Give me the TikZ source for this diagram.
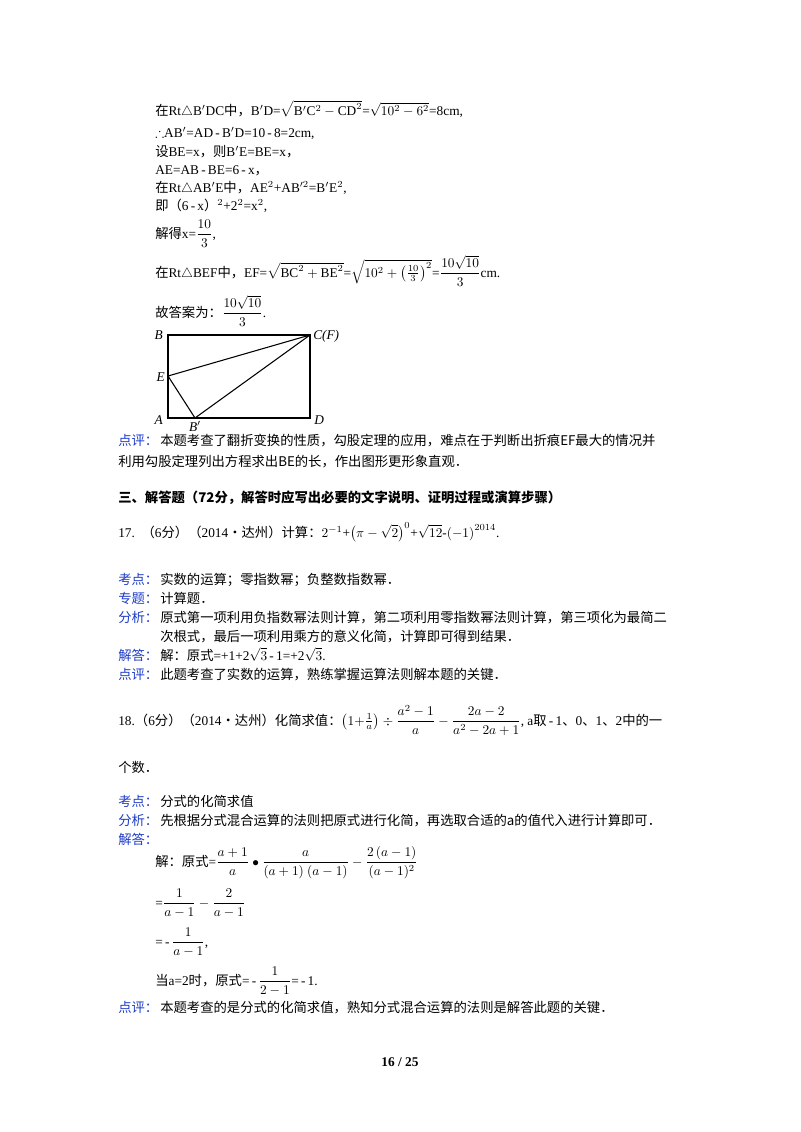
\documentclass[tikz,border=0pt]{standalone}
\usepackage{amsmath,amssymb}
\usepackage{fontspec}
\setmainfont{Liberation Serif}
\newfontfamily\cjk{Noto Sans CJK SC}
\definecolor{lblue}{RGB}{30,60,200}
\begin{document}
\begin{tikzpicture}[x=0.75pt,y=-0.75pt,
  t/.style={anchor=base west,inner sep=0pt,font=\fontsize{10}{12}\selectfont},
  b/.style={t,text=lblue}]
\useasboundingbox (0,0) rectangle (800,1132);
\fill[white] (0,0) rectangle (800,1132);
\node[t] (l1) at (155,115) {{\cjk 在}Rt$\triangle$B$'$DC{\cjk 中，}B$'$D=$\sqrt{\mathrm{B}'\mathrm{C}^2-\mathrm{CD}^2}$=$\sqrt{10^2-6^2}$=8cm,};
\node[t] (l2) at (155,137) {$\therefore$AB$'$=AD{\,-\,}B$'$D=10{\,-\,}8=2cm,};
\node[t] (l3) at (155,156) {{\cjk 设}BE=x{\cjk ，则}B$'$E=BE=x{\cjk ，}};
\node[t] (l4) at (155,174) {AE=AB{\,-\,}BE=6{\,-\,}x{\cjk ，}};
\node[t] (l5) at (155,192) {{\cjk 在}Rt$\triangle$AB$'$E{\cjk 中，}AE$^2$+AB$'^2$=B$'$E$^2$,};
\node[t] (l6) at (155,210) {{\cjk 即（}6{\,-\,}x{\cjk ）}$^2$+2$^2$=x$^2$,};
\node[t] (l7) at (155,238) {{\cjk 解得}x=$\dfrac{10}{3}$,};
\node[t] (l8) at (155,277) {{\cjk 在}Rt$\triangle$BEF{\cjk 中，}EF=$\sqrt{\mathrm{BC}^2+\mathrm{BE}^2}$=$\sqrt{10^2+\left(\frac{10}{3}\right)^2}$=$\dfrac{10\sqrt{10}}{3}$cm.};
\node[t] (l9) at (155,317) {{\cjk 故答案为：}$\dfrac{10\sqrt{10}}{3}$.};
% figure
\coordinate (A) at (168,418); \coordinate (B) at (168,335);
\coordinate (C) at (310,335); \coordinate (D) at (310,418);
\coordinate (E) at (168,376); \coordinate (Bp) at (195,418);
\draw[line width=0.8pt] (A) rectangle (C);
\draw[line width=0.8pt] (E) -- (C) (E) -- (Bp) -- (C);
\node[t,anchor=east] at (163,335) {\itshape B};
\node[t,anchor=west] at (313,336) {\itshape C(F)};
\node[t,anchor=east] at (165,377) {\itshape E};
\node[t,anchor=east] at (163,420) {\itshape A};
\node[t,anchor=north] at (195,421) {\itshape B$'$};
\node[t,anchor=west] at (314,420) {\itshape D};
\node[b] (p1) at (118,445) {\cjk 点评：};
\node[t] at (160,445) {\cjk 本题考查了翻折变换的性质，勾股定理的应用，难点在于判断出折痕EF最大的情况并};
\node[t] at (118,466) {\cjk 利用勾股定理列出方程求出BE的长，作出图形更形象直观．};
\node[t] at (118,502) {\cjk\bfseries 三、解答题（72分，解答时应写出必要的文字说明、证明过程或演算步骤）};
\node[t] (q17) at (118,537) {17.\ \ {\cjk （}6{\cjk 分）（}2014{\cjk •达州）计算：}$2^{-1}$+$\left(\pi-\sqrt{2}\right)^0$+$\sqrt{12}$-$\left(-1\right)^{2014}$.};
\node[b] at (118,584) {\cjk 考点：};
\node[t] at (160,584) {\cjk 实数的运算；零指数幂；负整数指数幂．};
\node[b] at (118,603) {\cjk 专题：};
\node[t] at (160,603) {\cjk 计算题．};
\node[b] at (118,622) {\cjk 分析：};
\node[t] at (160,622) {\cjk 原式第一项利用负指数幂法则计算，第二项利用零指数幂法则计算，第三项化为最简二};
\node[t] at (160,641) {\cjk 次根式，最后一项利用乘方的意义化简，计算即可得到结果．};
\node[b] at (118,660) {\cjk 解答：};
\node[t] at (160,660) {{\cjk 解：原式}=+1+2$\sqrt{3}${\,-\,}1=+2$\sqrt{3}$.};
\node[b] at (118,679) {\cjk 点评：};
\node[t] at (160,679) {\cjk 此题考查了实数的运算，熟练掌握运算法则解本题的关键．};
\node[t] (q18) at (118,725) {18.{\cjk （}6{\cjk 分）（}2014{\cjk •达州）化简求值：}$\left(1{+}\frac{1}{a}\right)\div\dfrac{a^2-1}{a}-\dfrac{2a-2}{a^2-2a+1}$, a{\cjk 取}{\,-\,}1{\cjk 、}0{\cjk 、}1{\cjk 、}2{\cjk 中的一}};
\node[t] at (118,772) {\cjk 个数．};
\node[b] at (118,806) {\cjk 考点：};
\node[t] at (160,806) {\cjk 分式的化简求值};
\node[b] at (118,825) {\cjk 分析：};
\node[t] at (160,825) {\cjk 先根据分式混合运算的法则把原式进行化简，再选取合适的a的值代入进行计算即可．};
\node[b] at (118,844) {\cjk 解答：};
\node[t] at (155,866) {{\cjk 解：原式}=$\dfrac{a+1}{a}\bullet\dfrac{a}{(a+1)\ (a-1)}-\dfrac{2\,(a-1)}{(a-1)^2}$};
\node[t] at (155,907) {=$\dfrac{1}{a-1}-\dfrac{2}{a-1}$};
\node[t] at (155,946) {={\,-\,}$\dfrac{1}{a-1}$,};
\node[t] at (155,985) {{\cjk 当}a=2{\cjk 时，原式}={\,-\,}$\dfrac{1}{2-1}$={\,-\,}1.};
\node[b] at (118,1012) {\cjk 点评：};
\node[t] at (160,1012) {\cjk 本题考查的是分式的化简求值，熟知分式混合运算的法则是解答此题的关键．};
\node[t,anchor=base] at (400,1066) {\bfseries 16 / 25};
\end{tikzpicture}
\end{document}
